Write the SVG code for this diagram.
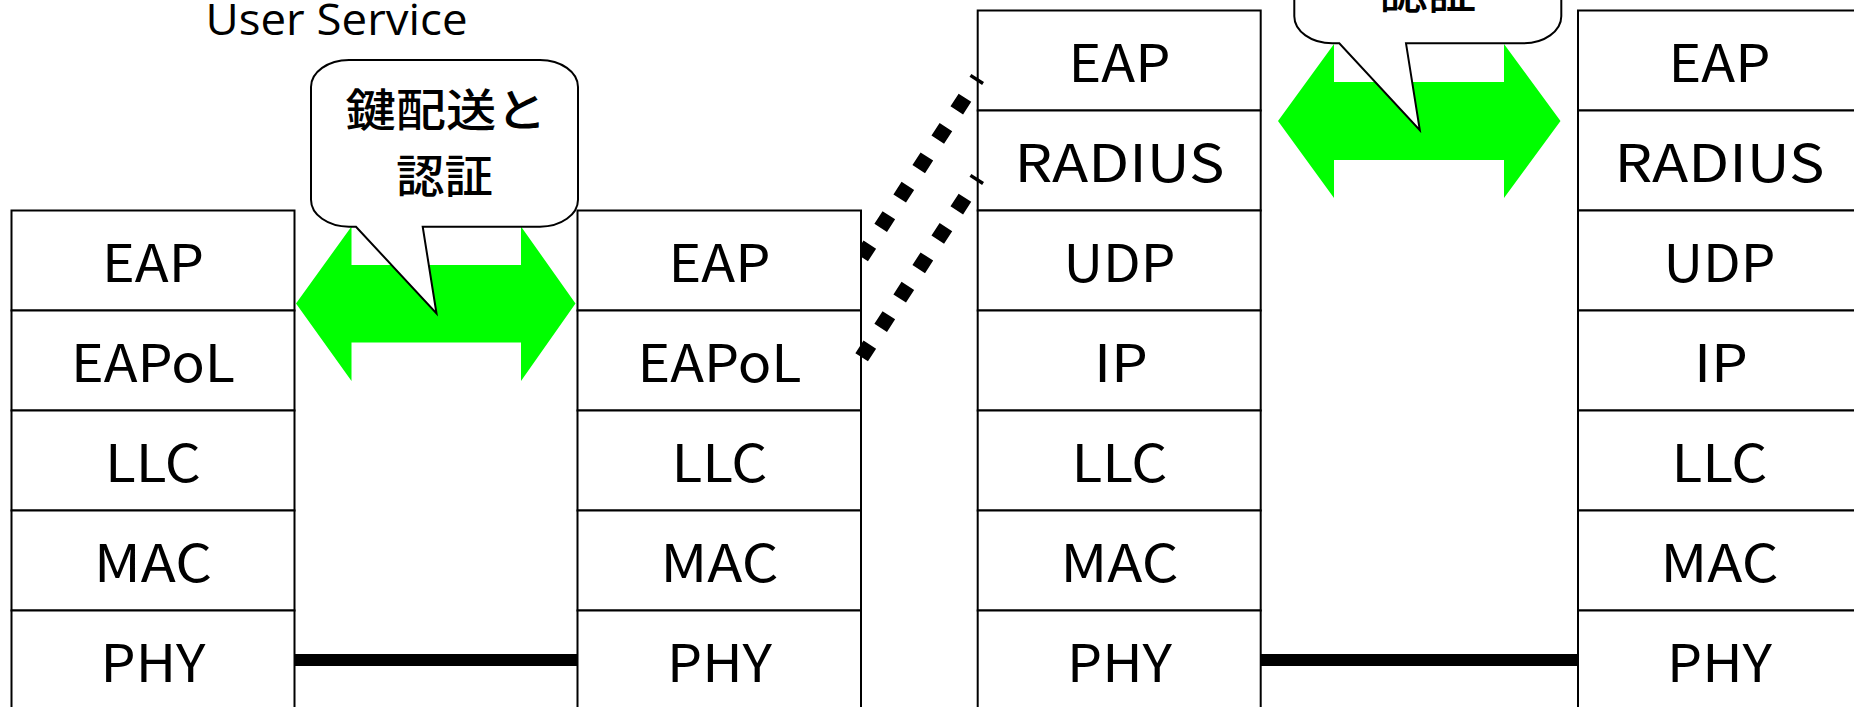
<svg xmlns="http://www.w3.org/2000/svg" width="1854" height="707" viewBox="0 0 1854 707">
<style>
.box{fill:#fff;stroke:#000;stroke-width:2}
.lbl{font-family:"Noto Sans CJK JP","Noto Sans",sans-serif;font-size:52px;fill:#000;text-anchor:middle}
.cj{font-family:"Noto Sans CJK JP",sans-serif;font-size:45px;font-weight:500;fill:#000;text-anchor:middle}
.title{font-family:"Open Sans",Lato,sans-serif;font-size:43px;fill:#000;text-anchor:middle}
.arrow{fill:#00ff00;stroke:none}
.dot{fill:none;stroke:#000;stroke-width:15;stroke-dasharray:15 20;stroke-dashoffset:11.5}
.bar{fill:#000}
.callout{fill:#fff;stroke:#000;stroke-width:2;stroke-linejoin:miter}
</style>
<defs>
<clipPath id="clipA"><rect x="861.7" y="0" width="200" height="400"/></clipPath>
</defs>
<rect width="1854" height="707" fill="#fff"/>
<text id="title" class="title" x="336.5" y="34.8" textLength="262" lengthAdjust="spacingAndGlyphs">User Service</text>

<g id="stack1">
<rect class="box" x="11.5" y="210.5" width="283" height="100"/>
<rect class="box" x="11.5" y="310.5" width="283" height="100"/>
<rect class="box" x="11.5" y="410.5" width="283" height="100"/>
<rect class="box" x="11.5" y="510.5" width="283" height="100"/>
<rect class="box" x="11.5" y="610.5" width="283" height="100"/>
<text class="lbl" x="153" y="281.8" textLength="102" lengthAdjust="spacingAndGlyphs">EAP</text>
<text class="lbl" x="153" y="381.8" textLength="164" lengthAdjust="spacingAndGlyphs">EAPoL</text>
<text class="lbl" x="153" y="481.8" textLength="96" lengthAdjust="spacingAndGlyphs">LLC</text>
<text class="lbl" x="153" y="581.8" textLength="118" lengthAdjust="spacingAndGlyphs">MAC</text>
<text class="lbl" x="153" y="681.8" textLength="105" lengthAdjust="spacingAndGlyphs">PHY</text>
</g>

<g id="stack2">
<rect class="box" x="577.5" y="210.5" width="283.5" height="100"/>
<rect class="box" x="577.5" y="310.5" width="283.5" height="100"/>
<rect class="box" x="577.5" y="410.5" width="283.5" height="100"/>
<rect class="box" x="577.5" y="510.5" width="283.5" height="100"/>
<rect class="box" x="577.5" y="610.5" width="283.5" height="100"/>
<text class="lbl" x="719.5" y="281.8" textLength="102" lengthAdjust="spacingAndGlyphs">EAP</text>
<text class="lbl" x="719.5" y="381.8" textLength="164" lengthAdjust="spacingAndGlyphs">EAPoL</text>
<text class="lbl" x="719.5" y="481.8" textLength="96" lengthAdjust="spacingAndGlyphs">LLC</text>
<text class="lbl" x="719.5" y="581.8" textLength="118" lengthAdjust="spacingAndGlyphs">MAC</text>
<text class="lbl" x="719.5" y="681.8" textLength="105" lengthAdjust="spacingAndGlyphs">PHY</text>
</g>

<g id="stack3">
<rect class="box" x="977.7" y="10.5" width="283" height="100"/>
<rect class="box" x="977.7" y="110.5" width="283" height="100"/>
<rect class="box" x="977.7" y="210.5" width="283" height="100"/>
<rect class="box" x="977.7" y="310.5" width="283" height="100"/>
<rect class="box" x="977.7" y="410.5" width="283" height="100"/>
<rect class="box" x="977.7" y="510.5" width="283" height="100"/>
<rect class="box" x="977.7" y="610.5" width="283" height="100"/>
<text class="lbl" x="1119.5" y="81.8" textLength="102" lengthAdjust="spacingAndGlyphs">EAP</text>
<text class="lbl" x="1119.5" y="181.8" textLength="210" lengthAdjust="spacingAndGlyphs">RADIUS</text>
<text class="lbl" x="1119.5" y="281.8" textLength="112" lengthAdjust="spacingAndGlyphs">UDP</text>
<text class="lbl" x="1121" y="381.8" textLength="54" lengthAdjust="spacingAndGlyphs">IP</text>
<text class="lbl" x="1119.5" y="481.8" textLength="96" lengthAdjust="spacingAndGlyphs">LLC</text>
<text class="lbl" x="1119.5" y="581.8" textLength="118" lengthAdjust="spacingAndGlyphs">MAC</text>
<text class="lbl" x="1119.5" y="681.8" textLength="105" lengthAdjust="spacingAndGlyphs">PHY</text>
</g>

<g id="stack4">
<rect class="box" x="1578" y="10.5" width="283" height="100"/>
<rect class="box" x="1578" y="110.5" width="283" height="100"/>
<rect class="box" x="1578" y="210.5" width="283" height="100"/>
<rect class="box" x="1578" y="310.5" width="283" height="100"/>
<rect class="box" x="1578" y="410.5" width="283" height="100"/>
<rect class="box" x="1578" y="510.5" width="283" height="100"/>
<rect class="box" x="1578" y="610.5" width="283" height="100"/>
<text class="lbl" x="1719.5" y="81.8" textLength="102" lengthAdjust="spacingAndGlyphs">EAP</text>
<text class="lbl" x="1719.5" y="181.8" textLength="210" lengthAdjust="spacingAndGlyphs">RADIUS</text>
<text class="lbl" x="1719.5" y="281.8" textLength="112" lengthAdjust="spacingAndGlyphs">UDP</text>
<text class="lbl" x="1721" y="381.8" textLength="54" lengthAdjust="spacingAndGlyphs">IP</text>
<text class="lbl" x="1719.5" y="481.8" textLength="96" lengthAdjust="spacingAndGlyphs">LLC</text>
<text class="lbl" x="1719.5" y="581.8" textLength="118" lengthAdjust="spacingAndGlyphs">MAC</text>
<text class="lbl" x="1719.5" y="681.8" textLength="105" lengthAdjust="spacingAndGlyphs">PHY</text>
</g>

<g id="connectors">
<polygon class="arrow" points="296,303.5 351.5,226.5 351.5,265 521,265 521,226.5 575.5,303.5 521,381 521,342.5 351.5,342.5 351.5,381"/>
<polygon class="arrow" points="1278,121 1334,44 1334,82 1504,82 1504,44 1560.5,121 1504,198 1504,160 1334,160 1334,198"/>
<rect class="bar" x="294.5" y="654" width="283" height="12"/>
<rect class="bar" x="1260.7" y="654" width="317.3" height="12"/>
<line class="dot" x1="977.7" y1="78" x2="861.6" y2="257.3" clip-path="url(#clipA)"/>
<line class="dot" x1="977.7" y1="178" x2="861.6" y2="357.3"/>
</g>

<g id="callout1">
<path class="callout" d="M422.7,226.7 L540,226.7 A38 27 0 0 0 578,199.7 L578,87 A38 27 0 0 0 540,60 L349,60 A38 27 0 0 0 311,87 L311,199.7 A38 27 0 0 0 349,226.7 L356,226.7 L436.5,313.5 Z"/>
<text class="cj" x="446" y="127" textLength="201" lengthAdjust="spacingAndGlyphs">鍵配送と</text>
<text class="cj" x="444.5" y="192.8" textLength="97" lengthAdjust="spacingAndGlyphs">認証</text>
</g>

<g id="callout2">
<path class="callout" d="M1406,43.3 L1523.3,43.3 A38 27 0 0 0 1561.3,16.3 L1561.3,-96.4 A38 27 0 0 0 1523.3,-123.4 L1332.3,-123.4 A38 27 0 0 0 1294.3,-96.4 L1294.3,16.3 A38 27 0 0 0 1332.3,43.3 L1339.3,43.3 L1419.8,130.1 Z"/>
<text class="cj" x="1427.8" y="9.4" textLength="97" lengthAdjust="spacingAndGlyphs">認証</text>
</g>
</svg>
